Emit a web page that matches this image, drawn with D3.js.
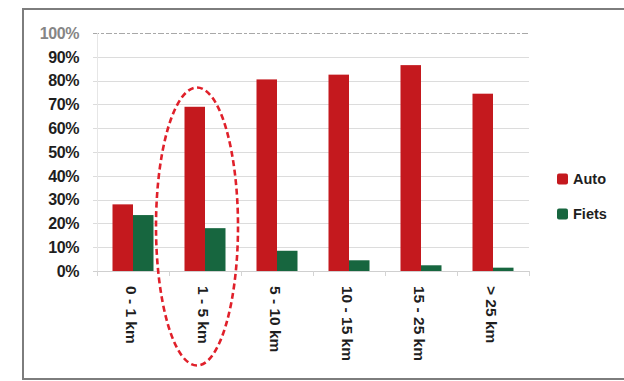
<!DOCTYPE html>
<html>
<head>
<meta charset="utf-8">
<script src="https://cdn.jsdelivr.net/npm/d3@7"></script>
<style>
  html, body { margin: 0; padding: 0; background: #fff; }
  svg { display: block; }
</style>
</head>
<body>
<svg id="chart" width="624" height="381"></svg>
<script>
// Share of trips by car vs. bike per distance class
const categories = ["0 - 1 km", "1 - 5 km", "5 - 10 km", "10 - 15 km", "15 - 25 km", "> 25 km"];
const seriesNames = ["Auto", "Fiets"];
const autoValues = [0.28, 0.69, 0.805, 0.825, 0.865, 0.745];
const fietsValues = [0.235, 0.18, 0.085, 0.045, 0.024, 0.014];
const tickValues = [0, 0.1, 0.2, 0.3, 0.4, 0.5, 0.6, 0.7, 0.8, 0.9, 1.0];
const tickLabels = ["0%", "10%", "20%", "30%", "40%", "50%", "60%", "70%", "80%", "90%", "100%"];
const highlighted = "1 - 5 km";

const colors = { Auto: "#c4191e", Fiets: "#17663f" };
const font = "'Liberation Sans', Arial, sans-serif";

const svg = d3.select("#chart");

// outer frame
svg.append("rect")
  .attr("x", 23).attr("y", 9)
  .attr("width", 610).attr("height", 370)
  .attr("fill", "#fff")
  .attr("stroke", "#7d7d7d")
  .attr("stroke-width", 2);

const x0 = d3.scaleBand().domain(categories).range([97, 529]).padding(0);
const groupW = 41;
const x1 = d3.scaleBand().domain(seriesNames)
  .range([x0.bandwidth() / 2 - groupW / 2, x0.bandwidth() / 2 + groupW / 2]).padding(0);
const y = d3.scaleLinear().domain([0, 1]).range([271, 33]);

// gridlines
svg.append("g").selectAll("line")
  .data(tickValues.filter(v => v > 0))
  .join("line")
  .attr("x1", 93).attr("x2", 529)
  .attr("y1", d => Math.round(y(d)) + 0.5).attr("y2", d => Math.round(y(d)) + 0.5)
  .attr("stroke", d => d === 1 ? "#a8a8a8" : "#dcdcdc")
  .attr("stroke-dasharray", d => d === 1 ? "6 2 3 2" : null)
  .attr("stroke-width", 1);

// faint vertical axis
svg.append("line")
  .attr("x1", 97.5).attr("x2", 97.5)
  .attr("y1", y(1)).attr("y2", y(0))
  .attr("stroke", "#e6e6e6");

// y tick labels
svg.append("g").selectAll("text")
  .data(tickValues)
  .join("text")
  .attr("x", 79)
  .attr("y", d => y(d))
  .attr("dy", "0.36em")
  .attr("text-anchor", "end")
  .attr("font-family", font)
  .attr("font-weight", "bold")
  .attr("font-size", 16)
  .attr("letter-spacing", "-0.4")
  .attr("fill", d => d === 1 ? "#858585" : "#1e1e1e")
  .text((d, i) => tickLabels[i]);

// bars
const rows = categories.map((c, i) => ({ cat: c, values: [
  { key: "Auto", value: autoValues[i] },
  { key: "Fiets", value: fietsValues[i] }
]}));

svg.append("g").selectAll("g")
  .data(rows)
  .join("g")
  .attr("transform", d => `translate(${x0(d.cat)},0)`)
  .selectAll("rect")
  .data(d => d.values)
  .join("rect")
  .attr("x", d => x1(d.key))
  .attr("width", x1.bandwidth())
  .attr("y", d => y(d.value))
  .attr("height", d => y(0) - y(d.value))
  .attr("fill", d => colors[d.key]);

// category axis line and ticks
svg.append("line")
  .attr("x1", 93).attr("x2", 529)
  .attr("y1", 271.5).attr("y2", 271.5)
  .attr("stroke", "#cfcfcf");
svg.append("g").selectAll("line")
  .data(d3.range(categories.length + 1))
  .join("line")
  .attr("x1", i => 97 + i * x0.step() + 0.5)
  .attr("x2", i => 97 + i * x0.step() + 0.5)
  .attr("y1", 271).attr("y2", 276)
  .attr("stroke", "#d4d4d4");

// rotated category labels
svg.append("g").selectAll("text")
  .data(categories)
  .join("text")
  .attr("transform", d => `translate(${x0(d) + x0.bandwidth() / 2 - 1},286) rotate(90)`)
  .attr("dy", "0.36em")
  .attr("text-anchor", "start")
  .attr("font-family", font)
  .attr("font-weight", "bold")
  .attr("font-size", 15.5)
  .attr("fill", "#1e1e1e")
  .text(d => d);

// legend
const legend = svg.append("g").selectAll("g")
  .data(seriesNames)
  .join("g")
  .attr("transform", (d, i) => `translate(557,${179 + i * 35})`);
legend.append("rect")
  .attr("x", 0).attr("y", -5.5)
  .attr("width", 11).attr("height", 11)
  .attr("rx", 2)
  .attr("fill", d => colors[d]);
legend.append("text")
  .attr("x", 16).attr("y", 0)
  .attr("dy", "0.36em")
  .attr("font-family", font)
  .attr("font-weight", "bold")
  .attr("font-size", 14.5)
  .attr("fill", "#1e1e1e")
  .text(d => d);

// dashed ellipse around the highlighted distance class
svg.append("ellipse")
  .attr("cx", x0(highlighted) + x0.bandwidth() / 2 - 8)
  .attr("cy", 226.5)
  .attr("rx", 41)
  .attr("ry", 139)
  .attr("fill", "none")
  .attr("stroke", "#e0202a")
  .attr("stroke-width", 2.6)
  .attr("stroke-dasharray", "6 3.5");
</script>
</body>
</html>
